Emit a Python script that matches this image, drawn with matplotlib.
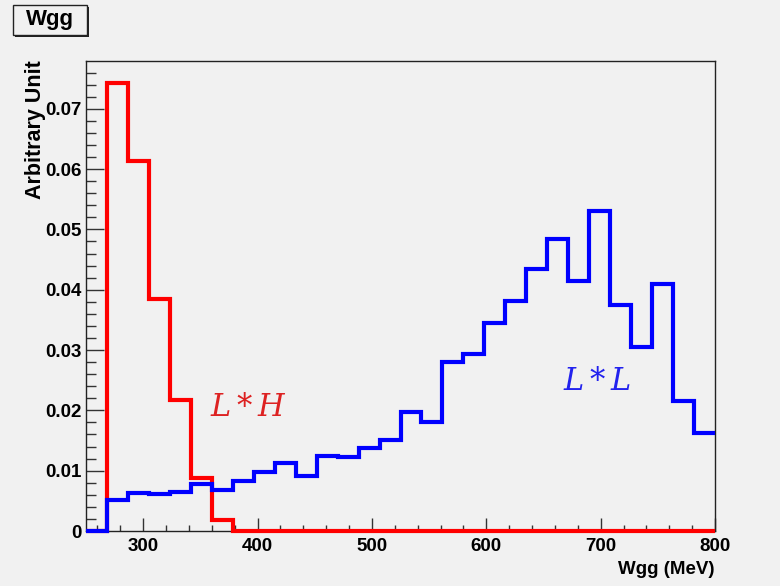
import numpy as np
import matplotlib.pyplot as plt
from matplotlib.patches import Rectangle
from matplotlib.ticker import MultipleLocator

# 30 bins of Wgg between 250 and 800 MeV
edges = np.linspace(250, 800, 31)

lh = [0.0, 0.0742, 0.0614, 0.0385, 0.0217, 0.0088, 0.0019, 0.0, 0.0, 0.0,
      0.0, 0.0, 0.0, 0.0, 0.0, 0.0, 0.0, 0.0, 0.0, 0.0,
      0.0, 0.0, 0.0, 0.0, 0.0, 0.0, 0.0, 0.0, 0.0, 0.0]
ll = [0.0, 0.0052, 0.0063, 0.0061, 0.0065, 0.0078, 0.0068, 0.0083, 0.0098, 0.0112,
      0.0092, 0.0124, 0.0123, 0.0138, 0.0151, 0.0198, 0.0181, 0.0280, 0.0294, 0.0344,
      0.0381, 0.0435, 0.0484, 0.0414, 0.0530, 0.0374, 0.0305, 0.0410, 0.0216, 0.0163]

bg = "#f1f1f1"
bold = {"family": "Liberation Sans", "weight": "bold"}
tag = {"math_fontfamily": "dejavuserif", "fontsize": 22, "ha": "center", "va": "center"}

fig = plt.figure(figsize=(7.8, 5.86), dpi=100, facecolor=bg)
ax = fig.add_axes([86 / 780, 1 - 531 / 586, 629 / 780, 470 / 586], facecolor=bg)

ax.stairs(lh, edges, baseline=None, color="red", lw=3, clip_on=False, zorder=3)
ax.stairs(ll, edges, baseline=None, color="blue", lw=3, clip_on=False, zorder=4)

ax.set_xlim(250, 800)
ax.set_ylim(0, max(lh) * 1.05)

ax.xaxis.set_major_locator(MultipleLocator(100))
ax.xaxis.set_minor_locator(MultipleLocator(20))
ax.yaxis.set_major_locator(MultipleLocator(0.01))
ax.yaxis.set_minor_locator(MultipleLocator(0.002))
ax.yaxis.set_major_formatter(plt.FuncFormatter(lambda v, p: "0" if v == 0 else f"{v:.2f}"))

ax.tick_params(axis="both", which="both", direction="in", width=1, color="#333333")
ax.tick_params(axis="x", which="major", length=9.5, pad=5)
ax.tick_params(axis="x", which="minor", length=4.5)
ax.tick_params(axis="y", which="major", length=13, pad=3)
ax.tick_params(axis="y", which="minor", length=7)
for lab in ax.get_xticklabels() + ax.get_yticklabels():
    lab.set_fontfamily("Liberation Sans")
    lab.set_fontweight("bold")
    lab.set_fontsize(13.5)

for s in ax.spines.values():
    s.set_linewidth(1)
    s.set_color("#222222")

fig.text(714 / 780, 1 - 569 / 586, "Wgg (MeV)", ha="right", va="center", fontsize=13.5, **bold)
fig.text(35 / 780, 1 - 60 / 586, "Arbitrary Unit", rotation=90, ha="center", va="top",
         fontsize=15.5, **bold)

ax.text(392, 0.0205, r"$L*H$", color="#dd2222", **tag)
ax.text(697, 0.0248, r"$L*L$", color="#2222ee", **tag)

# histogram title box with drop shadow
W, H = 780, 586
fig.patches.append(Rectangle((15 / W, 1 - 37 / H), 74 / W, 30 / H, transform=fig.transFigure,
                             facecolor="#222222", edgecolor="none", zorder=1))
fig.patches.append(Rectangle((13 / W, 1 - 35 / H), 74 / W, 30 / H, transform=fig.transFigure,
                             facecolor=bg, edgecolor="#222222", lw=1, zorder=2))
fig.text(50 / W, 1 - 20 / H, "Wgg", ha="center", va="center", fontsize=16, zorder=3, **bold)

fig.savefig("out.png", dpi=100, facecolor=bg)
